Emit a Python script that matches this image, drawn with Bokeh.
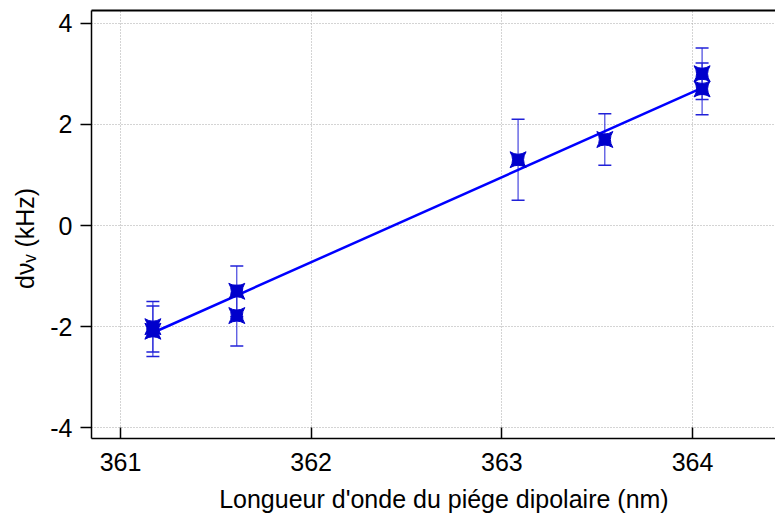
from bokeh.plotting import figure
from bokeh.models import (Range1d, FixedTicker, LinearAxis, Whisker, TeeHead,
                          ColumnDataSource)
from bokeh.embed import file_html
from bokeh.resources import INLINE

# ---- data ----
wavelength_nm = [361.17, 361.17, 361.61, 361.61, 363.085, 363.54, 364.05, 364.05]
shift_khz = [-2.00, -2.09, -1.30, -1.78, 1.30, 1.70, 3.00, 2.70]
err_khz = [0.50, 0.50, 0.50, 0.60, 0.80, 0.51, 0.51, 0.51]
fit_x = [361.17, 364.05]
fit_y = [-2.12, 2.72]
x_ticks = [361, 362, 363, 364]
y_ticks = [-4, -2, 0, 2, 4]
y_tick_labels = {-4: "-4", -2: "-2", 0: "0", 2: "2", 4: "4"}

FONT = "Liberation Sans"
FS = "25px"

src = ColumnDataSource(dict(
    x=wavelength_nm, y=shift_khz,
    upper=[v + e for v, e in zip(shift_khz, err_khz)],
    lower=[v - e for v, e in zip(shift_khz, err_khz)],
))

p = figure(width=775, height=517, output_backend="svg", toolbar_location=None,
           x_range=Range1d(360.848, 364.435), y_range=Range1d(-4.21, 4.25),
           min_border_left=91, min_border_right=0, min_border_top=10,
           min_border_bottom=79)
p.outline_line_color = None
p.background_fill_color = "white"
p.border_fill_color = "white"

# axes
for ax in (p.xaxis[0], p.yaxis[0]):
    ax.axis_line_color = "black"
    ax.axis_line_width = 1.5
    ax.major_tick_line_color = "black"
    ax.major_tick_line_width = 1.5
    ax.minor_tick_line_color = None
    ax.major_label_text_font = FONT
    ax.major_label_text_font_size = FS
    ax.major_label_text_color = "black"
    ax.axis_label_text_font = FONT
    ax.axis_label_text_font_size = FS
    ax.axis_label_text_font_style = "normal"
    ax.axis_label_text_color = "black"

p.xaxis.ticker = FixedTicker(ticks=x_ticks)
p.yaxis.ticker = FixedTicker(ticks=y_ticks)
p.yaxis.major_label_overrides = y_tick_labels
p.xaxis.major_tick_in = 11
p.xaxis.major_tick_out = 0
p.xaxis.major_label_standoff = 14
p.xaxis.axis_label = "\u00a0\u00a0\u00a0Longueur d'onde du piége dipolaire (nm)"
p.xaxis.axis_label_standoff = 11
p.yaxis.major_tick_in = 0
p.yaxis.major_tick_out = 11
p.yaxis.major_label_standoff = 8
p.yaxis.axis_label = "dνᵥ (kHz)\u00a0\u00a0\u00a0\u00a0"
p.yaxis.axis_label_standoff = 8

top = LinearAxis(ticker=FixedTicker(ticks=[]), axis_line_color="black",
                 axis_line_width=2, major_tick_line_color=None,
                 minor_tick_line_color=None)
p.add_layout(top, "above")

# grid
p.xgrid.ticker = FixedTicker(ticks=x_ticks)
p.ygrid.ticker = FixedTicker(ticks=y_ticks)
for g in (p.xgrid[0], p.ygrid[0]):
    g.grid_line_color = "#a8a8a8"
    g.grid_line_dash = "1 2"
    g.grid_line_width = 1

# error bars
wcol = "#2020d8"
p.add_layout(Whisker(source=src, base="x", upper="upper", lower="lower",
                     dimension="height", line_color=wcol, line_width=1,
                     upper_head=TeeHead(size=13, line_color=wcol, line_width=1.5),
                     lower_head=TeeHead(size=13, line_color=wcol, line_width=1.5)))

# fit line
p.line(fit_x, fit_y, line_color="#0000ff", line_width=2.5)

# markers
p.scatter("x", "y", source=src, marker="square_pin", size=16,
          fill_color="#0000cc", line_color="#0000cc")

open("out.html", "w").write(file_html(p, INLINE))
